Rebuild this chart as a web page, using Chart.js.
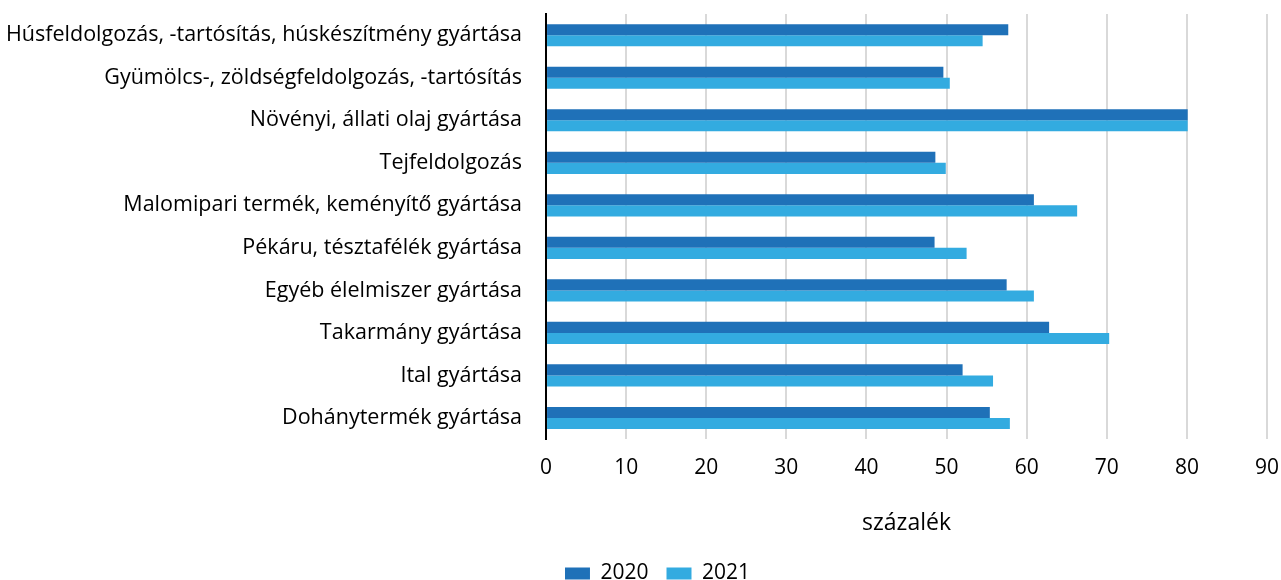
<!DOCTYPE html>
<html>
<head>
<meta charset="utf-8">
<script src="https://cdn.jsdelivr.net/npm/chart.js@4/dist/chart.umd.min.js"></script>
<style>
  html, body { margin: 0; padding: 0; background: #fff; }
  #wrap { width: 1281px; height: 580px; }
</style>
</head>
<body>
<div id="wrap"><canvas id="chart"></canvas></div>
<script>
// categories and values (percent)
const categories = [
  "Húsfeldolgozás, -tartósítás, húskészítmény gyártása",
  "Gyümölcs-, zöldségfeldolgozás, -tartósítás",
  "Növényi, állati olaj gyártása",
  "Tejfeldolgozás",
  "Malomipari termék, keményítő gyártása",
  "Pékáru, tésztafélék gyártása",
  "Egyéb élelmiszer gyártása",
  "Takarmány gyártása",
  "Ital gyártása",
  "Dohánytermék gyártása"
];
const values2020 = [57.7, 49.6, 80.1, 48.6, 60.9, 48.5, 57.5, 62.8, 52.0, 55.4];
const values2021 = [54.5, 50.4, 80.1, 49.9, 66.3, 52.5, 60.9, 70.3, 55.8, 57.9];
const xTicks = [0, 10, 20, 30, 40, 50, 60, 70, 80, 90];

const FONT = "'Open Sans', 'Noto Sans', sans-serif";

// nudge the legend a bit to the right, like in the original
const legendShift = {
  id: "legendShift",
  afterLayout(chart) {
    chart.legend.left += 26;
    chart.legend.right += 26;
  }
};

const ctx = document.getElementById("chart").getContext("2d");
new Chart(ctx, {
  type: "bar",
  data: {
    labels: categories,
    datasets: [
      {
        label: "2020",
        data: values2020,
        backgroundColor: "#1f71b8",
        categoryPercentage: 0.52,
        barPercentage: 1.0
      },
      {
        label: "2021",
        data: values2021,
        backgroundColor: "#33abe0",
        categoryPercentage: 0.52,
        barPercentage: 1.0
      }
    ]
  },
  plugins: [legendShift],
  options: {
    indexAxis: "y",
    responsive: true,
    maintainAspectRatio: false,
    animation: false,
    layout: { padding: { top: 14, right: 0, left: -18, bottom: -14 } },
    plugins: {
      tooltip: { enabled: false },
      legend: {
        position: "bottom",
        labels: {
          font: { family: FONT, size: 21 },
          color: "#000",
          boxWidth: 25,
          boxHeight: 12,
          padding: 18
        }
      }
    },
    scales: {
      x: {
        min: 0,
        max: 90,
        afterBuildTicks: (axis) => { axis.ticks = xTicks.map(v => ({ value: v })); },
        afterFit: (scale) => { scale.paddingRight = 14; },
        grid: { color: "#d9d9d9", lineWidth: 2, drawTicks: false },
        border: { display: false },
        ticks: {
          font: { family: FONT, size: 21 },
          color: "#000",
          padding: 16,
          autoSkip: false,
          maxRotation: 0
        },
        title: {
          display: true,
          text: "százalék",
          font: { family: FONT, size: 23 },
          color: "#000",
          padding: { top: 13, bottom: 8 }
        }
      },
      y: {
        afterFit: (scale) => { scale.paddingTop = 0; scale.paddingBottom = 0; },
        grid: { display: false, drawTicks: false },
        border: { display: true, color: "#000", width: 2 },
        ticks: {
          font: { family: FONT, size: 21.5 },
          color: "#000",
          padding: 24,
          autoSkip: false
        }
      }
    }
  }
});
</script>
</body>
</html>
